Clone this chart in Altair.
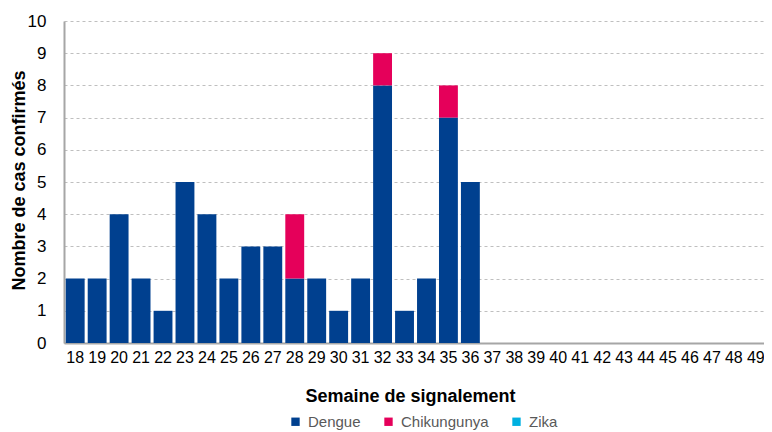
import altair as alt
import pandas as pd

weeks = [str(w) for w in range(18, 50)]
dengue = [2, 2, 4, 2, 1, 5, 4, 2, 3, 3, 2, 2, 1, 2, 8, 1, 2, 7, 5,
          0, 0, 0, 0, 0, 0, 0, 0, 0, 0, 0, 0, 0]
chikungunya = [0, 0, 0, 0, 0, 0, 0, 0, 0, 0, 2, 0, 0, 0, 1, 0, 0, 1, 0,
               0, 0, 0, 0, 0, 0, 0, 0, 0, 0, 0, 0, 0]
zika = [0] * 32
series = ["Dengue", "Chikungunya", "Zika"]
colors = ["#00408F", "#E5005A", "#00B0E0"]

rows = []
for i, w in enumerate(weeks):
    for k, (name, vals) in enumerate(zip(series, [dengue, chikungunya, zika])):
        rows.append({"semaine": w, "maladie": name, "cas": vals[i], "ordre": k})
df = pd.DataFrame(rows)

font = "Liberation Sans, Arial"

chart = alt.Chart(df).mark_bar().encode(
    x=alt.X("semaine:N", sort=weeks,
            scale=alt.Scale(paddingInner=0.14, paddingOuter=0.08),
            axis=alt.Axis(title="Semaine de signalement", labelAngle=0,
                          labelFont=font, labelFontSize=16, labelColor="#000000",
                          labelPadding=6, ticks=False,
                          domainColor="#A6A6A6", domainWidth=2,
                          titleFont=font, titleFontSize=18,
                          titleFontWeight="bold", titlePadding=22, titleX=346)),
    y=alt.Y("sum(cas):Q", scale=alt.Scale(domain=[0, 10], nice=False),
            axis=alt.Axis(title="Nombre de cas confirmés", values=list(range(0, 11)),
                          labelFont=font, labelFontSize=17, labelColor="#000000",
                          labelPadding=18, ticks=False,
                          domainColor="#A6A6A6", domainWidth=2,
                          grid=True, gridColor="#BFBFBF", gridDash=[3, 3], gridWidth=1,
                          titleFont=font, titleFontSize=18,
                          titleFontWeight="bold", titleX=-45, titleY=159,
                          titleBaseline="middle", titleAlign="center")),
    color=alt.Color("maladie:N", sort=series,
                    scale=alt.Scale(domain=series, range=colors),
                    legend=alt.Legend(title=None, orient="none", direction="horizontal",
                                      legendX=224, legendY=393,
                                      symbolType="square", symbolSize=70,
                                      symbolStrokeWidth=0,
                                      labelFont=font, labelFontSize=15,
                                      labelColor="#595959", columnPadding=20,
                                      labelOffset=5)),
    order=alt.Order("ordre:Q"),
).properties(
    width=703, height=322,
    autosize=alt.AutoSizeParams(type="none"),
    padding={"left": 56, "top": 13, "right": -3, "bottom": 88},
).configure_view(stroke=None)

chart.save("out.html", embed_options={"renderer": "svg", "actions": False})
